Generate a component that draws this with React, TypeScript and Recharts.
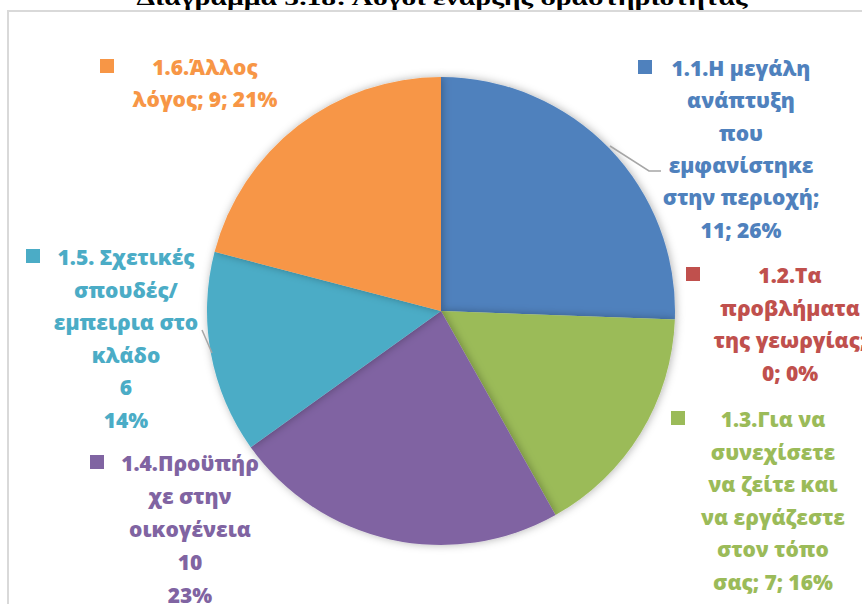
import React from "react";
import { Cell, Pie, PieChart } from "recharts";

const categories = [
  "1.1.Η μεγάλη ανάπτυξη που εμφανίστηκε στην περιοχή",
  "1.2.Τα προβλήματα της γεωργίας",
  "1.3.Για να συνεχίσετε να ζείτε και να εργάζεστε στον τόπο σας",
  "1.4.Προϋπήρχε στην οικογένεια",
  "1.5. Σχετικές σπουδές/ εμπειρια στο κλάδο",
  "1.6.Άλλος λόγος"
];
const values = [11, 0, 7, 10, 6, 9];
const colors = ["#4F81BD", "#C0504D", "#9BBB59", "#8064A2", "#4BACC6", "#F79646"];

// label text as wrapped in the picture; {v} = value, {p} = percent
const labelLines = [
  ["1.1.Η μεγάλη", "ανάπτυξη", "που", "εμφανίστηκε", "στην περιοχή;", "{v}; {p}%"],
  ["1.2.Τα", "προβλήματα", "της γεωργίας;", "{v}; {p}%"],
  ["1.3.Για να", "συνεχίσετε", "να ζείτε και", "να εργάζεστε", "στον τόπο", "σας; {v}; {p}%"],
  ["1.4.Προϋπήρ", "χε στην", "οικογένεια", "{v}", "{p}%"],
  ["1.5. Σχετικές", "σπουδές/", "εμπειρια στο", "κλάδο", "{v}", "{p}%"],
  ["1.6.Άλλος", "λόγος; {v}; {p}%"]
];

const title = "Διάγραμμα 5.18: Λόγοι έναρξης δραστηριότητας";

const total = values.reduce((a, b) => a + b, 0);
const data = categories.map((name, i) => ({ name, value: values[i] }));

// label placement relative to pie centre: text centre, first baseline, marker left
const labelLayout = [
  { dx: 300, dy: -235, sq: 197, gap: 32.3 },
  { dx: 349, dy: -28, sq: 245, gap: 32.5 },
  { dx: 332, dy: 116, sq: 230, gap: 32.5 },
  { dx: -251, dy: 160, sq: -351, gap: 33 },
  { dx: -315, dy: -46, sq: -415, gap: 32.6 },
  { dx: -236, dy: -236, sq: -341, gap: 32 }
];

const leaders: Record<number, [number, number][]> = {
  0: [[169, -165], [208, -140], [220, -140]],
  4: [[-239, 19], [-229, 42]]
};

const renderLabel = (props: any) => {
  const { cx, cy, index } = props;
  const lay = labelLayout[index];
  const color = colors[index];
  const pct = Math.round((values[index] / total) * 100);
  const lines = labelLines[index].map((l) =>
    l.replace("{v}", String(values[index])).replace("{p}", String(pct))
  );
  const pts = leaders[index];
  return (
    <g key={`lbl-${index}`}>
      {pts && (
        <polyline
          points={pts.map(([x, y]) => `${cx + x},${cy + y}`).join(" ")}
          fill="none"
          stroke="#A6A6A6"
          strokeWidth={1.5}
        />
      )}
      <rect x={cx + lay.sq} y={cy + lay.dy - 16} width={14} height={14} fill={color} />
      <text
        textAnchor="middle"
        fill={color}
        fontFamily="'Open Sans', sans-serif"
        fontWeight={800}
        fontSize={21}
      >
        {lines.map((l, i) => (
          <tspan key={i} x={cx + lay.dx} y={cy + lay.dy + i * lay.gap}>
            {l}
          </tspan>
        ))}
      </text>
    </g>
  );
};

export default function App() {
  return (
    <div
      style={{
        position: "absolute",
        left: 0,
        top: 0,
        width: 862,
        height: 604,
        overflow: "hidden",
        background: "#fff"
      }}
    >
      <div
        style={{
          position: "absolute",
          left: 7,
          top: 10,
          width: 900,
          height: 700,
          borderLeft: "2px solid #D9D9D9",
          borderTop: "2px solid #D9D9D9"
        }}
      />
      <svg width={862} height={30} style={{ position: "absolute", left: 0, top: 0 }}>
        <text
          x={442}
          y={5}
          textAnchor="middle"
          fontFamily="'Liberation Serif', serif"
          fontWeight="bold"
          fontSize={22}
          textLength={611}
          lengthAdjust="spacingAndGlyphs"
          fill="#000"
        >
          {title}
        </text>
      </svg>
      <div style={{ position: "absolute", left: 0, top: 0 }}>
        <PieChart width={862} height={604} margin={{ top: 0, right: 0, bottom: 0, left: 0 }}>
          <defs>
            <filter id="pieShadow" x="-20%" y="-20%" width="140%" height="140%">
              <feDropShadow dx={1} dy={0} stdDeviation={4} floodColor="#000" floodOpacity={0.3} />
            </filter>
          </defs>
          <Pie
            data={data}
            dataKey="value"
            nameKey="name"
            cx={441}
            cy={311}
            outerRadius={234}
            startAngle={90}
            endAngle={-270}
            stroke="none"
            label={renderLabel}
            labelLine={false}
            isAnimationActive={false}
            style={{ filter: "url(#pieShadow)" }}
          >
            {data.map((d, i) => (
              <Cell key={d.name} fill={colors[i]} />
            ))}
          </Pie>
        </PieChart>
      </div>
    </div>
  );
}
